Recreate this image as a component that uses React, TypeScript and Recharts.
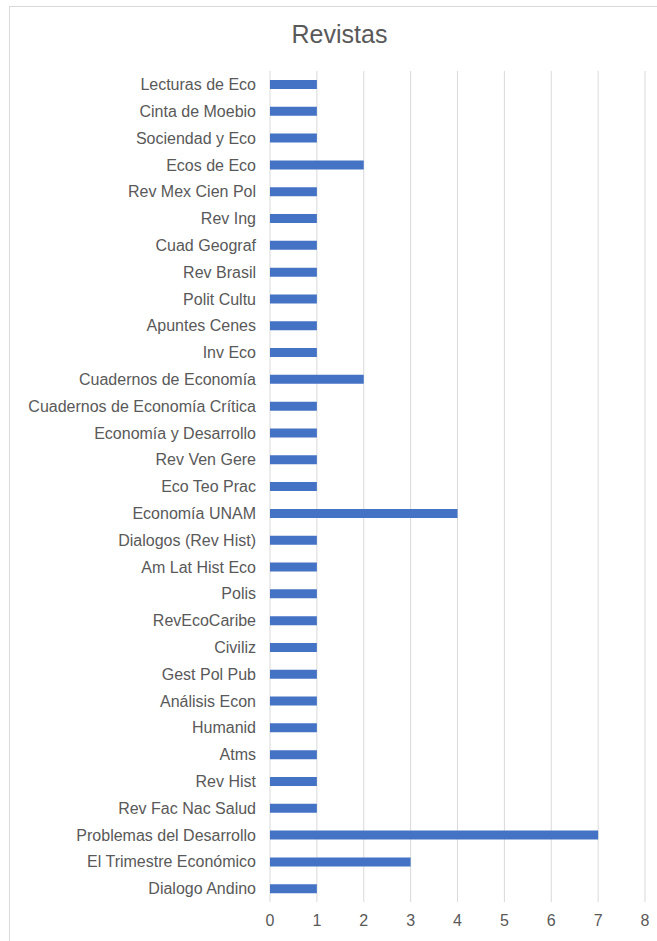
import React from 'react';
import { BarChart, Bar, XAxis, YAxis, CartesianGrid } from 'recharts';

const journals = [
  'Lecturas de Eco',
  'Cinta de Moebio',
  'Sociendad y Eco',
  'Ecos de Eco',
  'Rev Mex Cien Pol',
  'Rev Ing',
  'Cuad Geograf',
  'Rev Brasil ',
  'Polit Cultu',
  'Apuntes Cenes',
  'Inv Eco',
  'Cuadernos de Economía',
  'Cuadernos de Economía Crítica',
  'Economía y Desarrollo',
  'Rev Ven Gere',
  'Eco Teo Prac',
  'Economía UNAM',
  'Dialogos (Rev Hist)',
  'Am Lat Hist Eco',
  'Polis',
  'RevEcoCaribe',
  'Civiliz',
  'Gest Pol Pub',
  'Análisis Econ',
  'Humanid',
  'Atms',
  'Rev Hist',
  'Rev Fac Nac Salud',
  'Problemas del Desarrollo',
  'El Trimestre Económico',
  'Dialogo Andino',
];

const counts = [1, 1, 1, 2, 1, 1, 1, 1, 1, 1, 1, 2, 1, 1, 1, 1, 4, 1, 1, 1, 1, 1, 1, 1, 1, 1, 1, 1, 7, 3, 1];

const xTicks = [0, 1, 2, 3, 4, 5, 6, 7, 8];

const data = journals.map((name, i) => ({ name, value: counts[i] }));

const font = '"Liberation Sans", Arial, sans-serif';

export default function App() {
  return (
    <div style={{ position: 'absolute', left: 0, top: 0, width: 657, height: 941, background: '#fff', overflow: 'hidden', fontFamily: font }}>
      <div
        style={{
          position: 'absolute',
          left: 9,
          top: 6,
          width: 700,
          height: 1000,
          border: '1px solid #d9d9d9',
          boxSizing: 'border-box',
        }}
      />
      <div
        style={{
          position: 'absolute',
          left: 0,
          top: 22,
          width: 679,
          textAlign: 'center',
          fontSize: 25,
          lineHeight: '25px',
          color: '#595959',
        }}
      >
        Revistas
      </div>
      <div style={{ position: 'absolute', left: 0, top: 0 }}>
        <BarChart
          layout="vertical"
          width={657}
          height={941}
          data={data}
          margin={{ top: 71, right: 12, bottom: 9, left: 0 }}
        >
          <CartesianGrid horizontal={false} stroke="#d9d9d9" />
          <XAxis
            type="number"
            domain={[0, 8]}
            ticks={xTicks}
            interval={0}
            axisLine={false}
            tickLine={false}
            tickMargin={7}
            tick={{ fill: '#595959', fontSize: 16, fontFamily: font }}
          />
          <YAxis
            type="category"
            dataKey="name"
            width={270}
            interval={0}
            axisLine={false}
            tickLine={false}
            tickMargin={8}
            tick={{ fill: '#595959', fontSize: 16, fontFamily: font }}
          />
          <Bar dataKey="value" fill="#4472c4" barSize={9} isAnimationActive={false} />
        </BarChart>
      </div>
    </div>
  );
}
